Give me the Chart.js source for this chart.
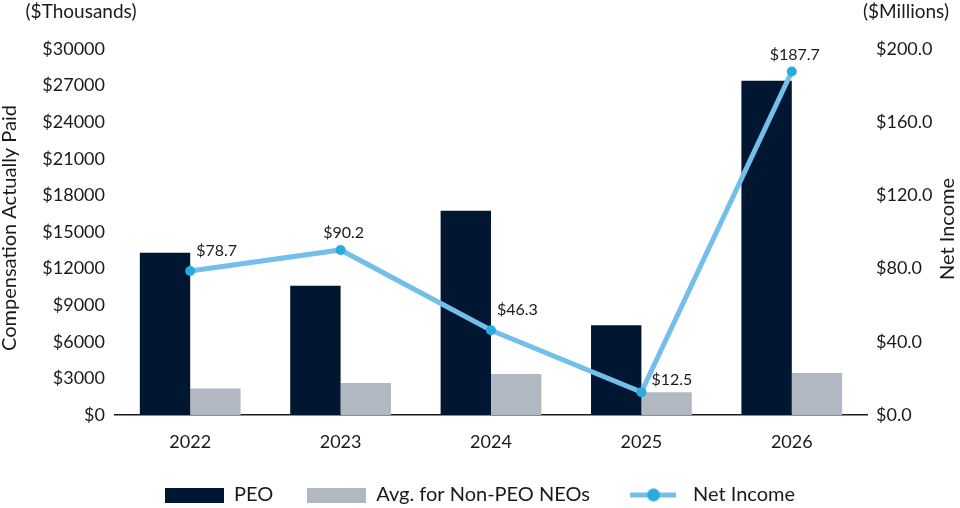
<!DOCTYPE html>
<html>
<head>
<meta charset="utf-8">
<script src="https://cdn.jsdelivr.net/npm/chart.js@4.4.1/dist/chart.umd.min.js"></script>
<style>
html,body{margin:0;padding:0;background:#fff;}
#wrap{width:960px;height:508px;position:relative;}
</style>
</head>
<body>
<div id="wrap"><canvas id="c" width="960" height="508"></canvas></div>
<script>
const categories = ['2022', '2023', '2024', '2025', '2026'];
const peoValues = [13300, 10600, 16750, 7350, 27400];
const nonPeoValues = [2170, 2630, 3370, 1870, 3450];
const netIncomeValues = [78.7, 90.2, 46.3, 12.5, 187.7];
const leftTicksMax = 30000, leftStep = 3000;
const rightTicksMax = 200, rightStep = 40;

const FONT = 'Lato, "Noto Sans", sans-serif';
const TXT = '#1a1a1a';
const NAVY = '#001631';
const GRAY = '#b1b8c2';
const LINE = '#74bfe9';
const DOT = '#29abe2';

function boxImg(color, w, h) {
  const c = document.createElement('canvas');
  c.width = w; c.height = h;
  const x = c.getContext('2d');
  x.fillStyle = color; x.fillRect(0, 0, w, h);
  return c;
}
function lineImg(w, h) {
  const c = document.createElement('canvas');
  c.width = w; c.height = h;
  const x = c.getContext('2d');
  x.strokeStyle = LINE; x.lineWidth = 5;
  x.beginPath(); x.moveTo(0, h / 2); x.lineTo(w, h / 2); x.stroke();
  x.fillStyle = DOT; x.beginPath(); x.arc(w / 2, h / 2, 6.5, 0, Math.PI * 2); x.fill();
  return c;
}
const legendImgs = [boxImg(NAVY, 59, 15), boxImg(GRAY, 59, 15), lineImg(46, 15)];

// label placement style per point (not data): 'r' = to the right of point, 'c' = centered above
const labelPlacement = ['r', 'c', 'r', 'r', 'c'];

const extraText = {
  id: 'extraText',
  afterDatasetsDraw(chart) {
    const ctx = chart.ctx;
    const meta = chart.getDatasetMeta(2);
    ctx.save();
    ctx.fillStyle = TXT;
    ctx.font = '16px ' + FONT;
    ctx.textBaseline = 'middle';
    meta.data.forEach((pt, i) => {
      const t = '$' + netIncomeValues[i].toFixed(1);
      const p = labelPlacement[i];
      if (p === 'c') { ctx.textAlign = 'center'; ctx.fillText(t, pt.x + 3, pt.y - 17); }
      else { ctx.textAlign = 'left'; ctx.fillText(t, pt.x + (i === 3 ? 10 : 6), pt.y - (i === 3 ? 12 : 20)); }
    });
    ctx.restore();
  },
  afterDraw(chart) {
    const ctx = chart.ctx;
    ctx.save();
    ctx.fillStyle = TXT;
    ctx.font = '19px ' + FONT;
    ctx.textBaseline = 'middle';
    ctx.textAlign = 'center';
    ctx.fillText('($Thousands)', 81, 12);
    ctx.fillText('($Millions)', 906, 12);
    ctx.font = '20px ' + FONT;
    ctx.translate(10, 228);
    ctx.rotate(-Math.PI / 2);
    ctx.fillText('Compensation Actually Paid', 0, 0);
    ctx.restore();
    ctx.save();
    ctx.fillStyle = TXT;
    ctx.font = '20px ' + FONT;
    ctx.textBaseline = 'middle';
    ctx.textAlign = 'center';
    ctx.translate(948, 229);
    ctx.rotate(-Math.PI / 2);
    ctx.fillText('Net Income', 0, 0);
    ctx.restore();
  }
};

new Chart(document.getElementById('c'), {
  data: {
    labels: categories,
    datasets: [
      { type: 'bar', label: 'PEO', data: peoValues, backgroundColor: NAVY, yAxisID: 'y', order: 2,
        barPercentage: 1, categoryPercentage: 0.67 },
      { type: 'bar', label: 'Avg. for Non-PEO NEOs', data: nonPeoValues, backgroundColor: GRAY, yAxisID: 'y', order: 3,
        barPercentage: 1, categoryPercentage: 0.67 },
      { type: 'line', label: 'Net Income', data: netIncomeValues, borderColor: LINE, borderWidth: 5,
        pointBackgroundColor: DOT, pointBorderColor: DOT, pointBorderWidth: 0, pointRadius: 5, pointHoverRadius: 5,
        yAxisID: 'y1', order: 1, tension: 0 }
    ]
  },
  options: {
    responsive: false,
    animation: false,
    devicePixelRatio: 1,
    layout: { padding: { top: 49, left: 0, right: 0, bottom: -7 } },
    plugins: {
      tooltip: { enabled: false },
      legend: {
        position: 'bottom',
        labels: {
          usePointStyle: true,
          pointStyleWidth: 59,
          boxHeight: 15,
          padding: 34,
          color: TXT,
          font: { family: FONT, size: 20 },
          generateLabels(chart) {
            return chart.data.datasets.map((ds, i) => ({
              text: ds.label, pointStyle: legendImgs[i], fillStyle: 'transparent',
              strokeStyle: 'transparent', lineWidth: 0, datasetIndex: i, hidden: false, fontColor: TXT
            }));
          }
        }
      }
    },
    scales: {
      x: {
        grid: { display: false, drawTicks: false },
        border: { display: true, color: '#1a1a1a', width: 1.5 },
        ticks: { color: TXT, font: { family: FONT, size: 18 }, padding: 16 },
        afterFit(s) { s.height = 36; }
      },
      y: {
        position: 'left', min: 0, max: leftTicksMax,
        grid: { display: false, drawTicks: false },
        border: { display: false },
        ticks: { stepSize: leftStep, color: TXT, font: { family: FONT, size: 18 }, padding: 10,
          callback: v => '$' + v },
        afterFit(s) { s.width = 115; }
      },
      y1: {
        position: 'right', min: 0, max: rightTicksMax,
        grid: { display: false, drawTicks: false },
        border: { display: false },
        ticks: { stepSize: rightStep, color: TXT, font: { family: FONT, size: 18 }, padding: 9,
          callback: v => '$' + v.toFixed(1) },
        afterFit(s) { s.width = 93; }
      }
    }
  },
  plugins: [extraText]
});
</script>
</body>
</html>
